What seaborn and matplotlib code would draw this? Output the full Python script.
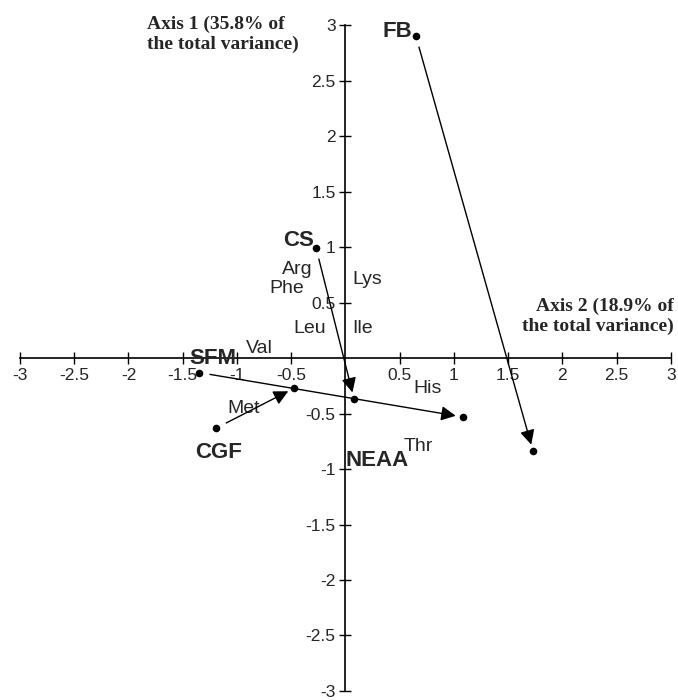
import matplotlib
matplotlib.use("Agg")
import matplotlib.pyplot as plt
import numpy as np
import pandas as pd
import seaborn as sns

# points (axis 2 on x, axis 1 on y)
point_x = [0.65, 1.73, -0.27, 0.08, -1.35, 1.08, -1.19, -0.47]
point_y = [2.90, -0.84, 0.99, -0.37, -0.13, -0.53, -0.63, -0.27]

# arrows: start index -> end index
arrow_pairs = [(0, 1), (2, 3), (4, 5), (6, 7)]

group_labels = ["FB", "CS", "SFM", "CGF", "NEAA"]
group_x = [0.48, -0.43, -1.22, -1.17, 0.29]
group_y = [2.94, 1.06, 0.00, -0.85, -0.92]

aa_labels = ["Arg", "Phe", "Lys", "Leu", "Ile", "Val", "His", "Met", "Thr"]
aa_x = [-0.44, -0.54, 0.20, -0.33, 0.16, -0.79, 0.76, -0.94, 0.67]
aa_y = [0.80, 0.63, 0.71, 0.27, 0.27, 0.09, -0.27, -0.45, -0.80]

ticks = [-3, -2.5, -2, -1.5, -1, -0.5, 0.5, 1, 1.5, 2, 2.5, 3]

sns.set_style("white")
plt.rcParams["font.family"] = ["Liberation Sans", "DejaVu Sans"]

fig = plt.figure(figsize=(6.78, 7), dpi=100)
ax = fig.add_axes([0.0295, 0.0129, 0.960, 0.951])

df = pd.DataFrame({"x": point_x, "y": point_y})
sns.scatterplot(data=df, x="x", y="y", ax=ax, color="black", s=30,
                edgecolor="black", linewidth=0, zorder=5)

for a, b in arrow_pairs:
    ax.annotate("", xy=(point_x[b], point_y[b]), xytext=(point_x[a], point_y[a]),
                arrowprops=dict(arrowstyle="-|>", color="black", lw=1.0,
                                mutation_scale=22, shrinkA=8, shrinkB=5),
                zorder=4)

for lab, x, y in zip(group_labels, group_x, group_y):
    ax.text(x, y, lab, fontsize=16, fontweight="bold", ha="center", va="center")

for lab, x, y in zip(aa_labels, aa_x, aa_y):
    ax.text(x, y, lab, fontsize=14, ha="center", va="center")

ax.set_xlim(-3, 3)
ax.set_ylim(-3, 3)
ax.spines["left"].set_position(("data", 0))
ax.spines["bottom"].set_position(("data", 0))
ax.spines["top"].set_visible(False)
ax.spines["right"].set_visible(False)
for s in ["left", "bottom"]:
    ax.spines[s].set_color("black")
    ax.spines[s].set_linewidth(1.2)

ax.set_xticks(ticks)
ax.set_yticks(ticks)
ax.set_xticklabels([f"{t:g}" for t in ticks])
ax.set_yticklabels([f"{t:g}" for t in ticks])
ax.tick_params(axis="both", direction="inout", length=8, width=1,
               labelsize=12.5, color="black", bottom=True, left=True, pad=3)
ax.set_xlabel("")
ax.set_ylabel("")

fig.text(0.217, 0.978, "Axis 1 (35.8% of\nthe total variance)", fontsize=14,
         fontweight="bold", family="Liberation Serif", ha="left", va="top",
         linespacing=1.25)
fig.text(0.993, 0.575, "Axis 2 (18.9% of\nthe total variance)", fontsize=14,
         fontweight="bold", family="Liberation Serif", ha="right", va="top",
         linespacing=1.25)

fig.savefig("out.png", dpi=100)
